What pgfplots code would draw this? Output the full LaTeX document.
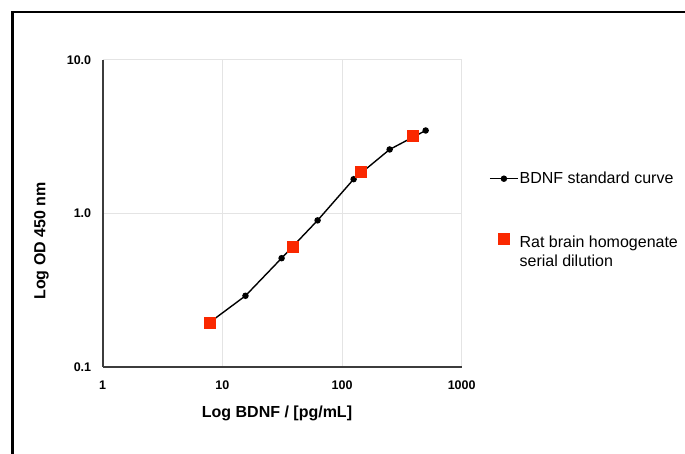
\documentclass[border=0pt]{standalone}
\usepackage{pgfplots}
\pgfplotsset{compat=1.18}
\usepackage{fontspec}
\setmainfont{Liberation Sans}
\definecolor{redsq}{RGB}{250,40,0}
\definecolor{gridgray}{RGB}{228,228,228}
\definecolor{axisgray}{RGB}{60,60,60}
\pgfplotsset{redlegend/.style={legend image code/.code={\draw[##1] plot coordinates {(14pt,13pt)}; \path (0pt,0pt) (28pt,0pt);}}}
\begin{document}
\begin{tikzpicture}
\useasboundingbox (0pt,0pt) rectangle (685pt,454pt);
\draw[line width=2.8pt,black] (12.5pt,-2pt) -- (12.5pt,442pt) -- (690pt,442pt);
\begin{axis}[
  at={(102.7pt,87.3pt)}, anchor=south west,
  scale only axis, width=359pt, height=306.7pt,
  xmode=log, ymode=log,
  xmin=1, xmax=1000, ymin=0.1, ymax=10,
  xtick={1,10,100,1000}, xticklabels={1,10,100,1000},
  ytick={0.1,1,10}, yticklabels={0.1,1.0,10.0},
  minor xtick={}, minor ytick={}, minor tick num=0,
  major tick length=0pt, minor tick length=0pt,
  grid=major, major grid style={gridgray, line width=1pt},
  axis lines=left, axis line style={-, axisgray, line width=1.8pt},
  tick label style={font=\fontsize{12.5}{14}\selectfont\bfseries},
  xticklabel style={yshift=-11pt},
  yticklabel style={xshift=-8pt},
  xlabel={Log BDNF / [pg/mL]}, ylabel={Log OD 450 nm},
  every axis x label/.style={at={(axis description cs:0.4855,-0.151)}, anchor=center, font=\fontsize{16}{18}\selectfont\bfseries},
  every axis y label/.style={at={(axis description cs:-0.1705,0.41)}, rotate=90, anchor=center, font=\fontsize{16}{18}\selectfont\bfseries},
  legend style={at={(axis description cs:1.0677,0.648)}, anchor=north west, draw=none, fill=none,
    font=\fontsize{16}{18.5}\selectfont, row sep=46pt, nodes={align=left, inner xsep=1pt}},
  legend cell align=left,
  legend image code/.code={\draw[mark repeat=2,mark phase=2,#1] plot coordinates {(0pt,0pt) (14pt,0pt) (28pt,0pt)};},
  clip=false,
]
\addplot[black, line width=1.4pt, mark=*, mark size=2.5pt, mark options={fill=black}] coordinates {
  (7.8,0.194) (15.6,0.29) (31.25,0.51) (62.5,0.90) (125,1.67) (250,2.61) (500,3.47)
};
\addlegendentry{BDNF standard curve}
\addplot[only marks, mark=square*, mark size=5.5pt, color=redsq, mark options={fill=redsq, draw=redsq}, redlegend] coordinates {
  (7.8,0.194) (39,0.605) (143,1.87) (389,3.2)
};
\addlegendentry{Rat brain homogenate\\serial dilution}
\end{axis}
\end{tikzpicture}
\end{document}
